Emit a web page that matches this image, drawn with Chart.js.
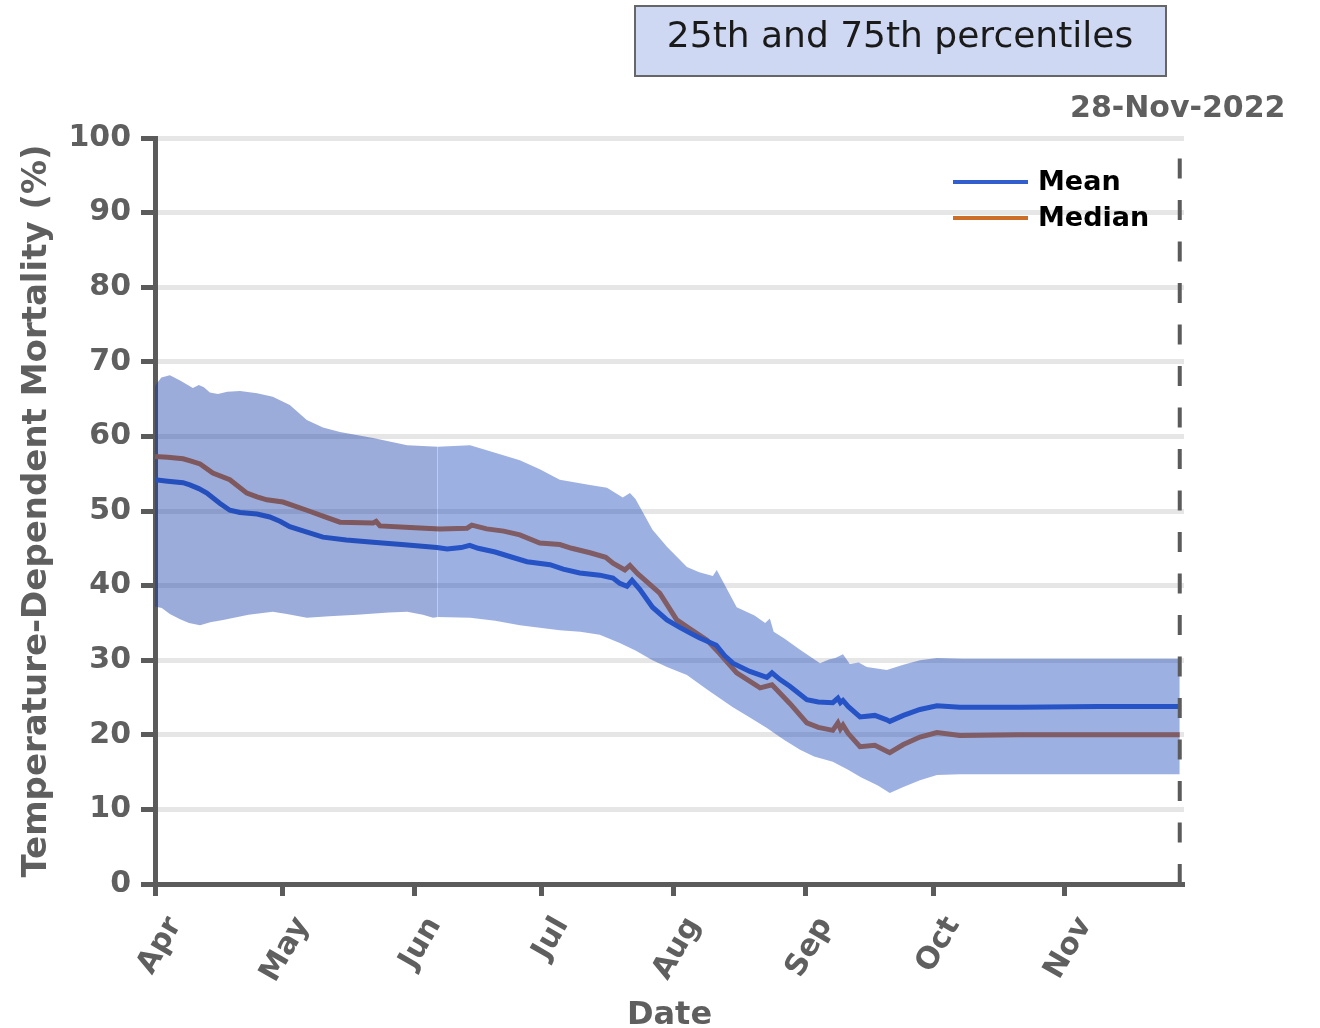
<!DOCTYPE html>
<html><head><meta charset="utf-8">
<script src="https://cdn.jsdelivr.net/npm/chart.js@4.4.1/dist/chart.umd.min.js"></script>
<style>html,body{margin:0;padding:0;background:#fff;}canvas{display:block;}</style>
</head><body>
<canvas id="c" width="1320" height="1028"></canvas>
<script>
// x values are days since 1-Apr-2022
const monthTickDays = [0, 30, 61, 91, 122, 153, 183, 214];
const monthLabels = ['Apr', 'May', 'Jun', 'Jul', 'Aug', 'Sep', 'Oct', 'Nov'];
const yTicks = [0, 10, 20, 30, 40, 50, 60, 70, 80, 90, 100];
const lastDay = 241;
const lastDayLabel = '28-Nov-2022';
const bandSplitDay = 66.5;
const titleText = '25th and 75th percentiles';
const seriesNames = ['Mean', 'Median'];

const meanSeries = [[0,54.2],[3,54.0],[6.6,53.8],[8.2,53.5],[10.3,53.0],[12.2,52.4],[15.3,51.0],[17.6,50.1],[20,49.8],[24,49.6],[27,49.2],[29.5,48.6],[31.7,47.9],[35,47.3],[39.5,46.5],[45,46.1],[51.3,45.8],[58,45.5],[66.3,45.1],[68.7,44.9],[72,45.1],[74,45.4],[76,45.0],[80,44.5],[84,43.8],[87.5,43.2],[92.9,42.8],[96,42.2],[99.9,41.7],[104.6,41.4],[107.7,41.0],[109.3,40.3],[111,39.9],[112.2,40.7],[114,39.5],[117,37.1],[120.4,35.4],[123.4,34.4],[126,33.6],[128,33.0],[132,32.0],[134,30.6],[135.9,29.6],[139.9,28.5],[143.9,27.7],[145.1,28.3],[147,27.4],[149.3,26.5],[153.3,24.7],[156,24.4],[159.4,24.3],[160.6,24.9],[161.2,24.3],[161.8,24.6],[163,23.8],[165.8,22.4],[169.3,22.6],[172.1,22.0],[172.8,21.8],[176,22.6],[179.9,23.4],[183.9,23.9],[189.3,23.7],[203.4,23.7],[222,23.8],[241,23.8]];

const medianSeries = [[0,57.3],[3,57.2],[6.6,57.0],[8.5,56.7],[10.6,56.3],[13.6,55.1],[17.6,54.2],[21.6,52.4],[24,51.9],[26.3,51.5],[30.1,51.2],[35.7,50.1],[40,49.2],[43.5,48.5],[51.3,48.4],[52,48.6],[52.9,48.0],[60,47.8],[67,47.6],[73.4,47.7],[74.5,48.1],[78,47.6],[82,47.3],[85.8,46.8],[90.5,45.7],[95.2,45.5],[98,45.0],[102.3,44.4],[106,43.8],[107.7,43.0],[110.5,42.1],[111.7,42.7],[113.5,41.6],[118.7,39.0],[122.7,35.4],[125.8,34.2],[129.8,32.7],[132.8,30.9],[136.8,28.3],[142.3,26.3],[145.1,26.7],[149.3,24.2],[153.3,21.6],[156,21.0],[159.4,20.6],[160.6,21.6],[161.2,20.8],[161.8,21.3],[163,20.2],[165.8,18.4],[169.3,18.6],[172.1,17.8],[172.8,17.6],[176,18.7],[179.9,19.7],[183.9,20.3],[189.3,19.9],[203,20.0],[241,20.0]];

const upper75 = [[0,66.8],[1.5,67.9],[3.5,68.2],[5.9,67.5],[8.9,66.5],[10.3,66.9],[11.5,66.6],[12.9,65.9],[14.8,65.7],[17,66.0],[20,66.1],[24,65.8],[27.7,65.3],[31.7,64.2],[35.7,62.2],[39.5,61.2],[43.5,60.6],[51.3,59.8],[59.3,58.8],[66.5,58.6],[74.1,58.8],[78.8,58.0],[85.8,56.8],[90.5,55.6],[95.2,54.2],[102.3,53.5],[106.3,53.1],[110,51.8],[111.7,52.4],[113,51.6],[117,47.5],[120.4,45.2],[125.1,42.5],[128,41.8],[131.2,41.3],[132.1,42.1],[133.5,40.6],[136.8,37.1],[141,36.0],[143.5,35.0],[144.6,35.6],[145.5,33.8],[148,32.9],[151.7,31.4],[156.4,29.6],[158.5,30.1],[160,30.3],[161.8,30.8],[163.4,29.5],[165.5,29.7],[167.4,29.1],[172.1,28.7],[176,29.4],[179.9,30.0],[183.9,30.3],[190,30.2],[241,30.2]];

const lower25 = [[0,37.2],[1.6,37.0],[3.5,36.2],[5.9,35.5],[8,35.0],[10.6,34.7],[13,35.1],[16,35.4],[22,36.1],[27.7,36.5],[31,36.2],[35.7,35.7],[41,35.9],[47.5,36.1],[55,36.4],[59.3,36.5],[63,36.1],[65.4,35.7],[66.5,35.8],[74.1,35.7],[80,35.3],[85.8,34.7],[95.2,34.0],[100,33.8],[104.6,33.4],[109.3,32.3],[113,31.3],[117,30.0],[120.4,29.1],[125.1,28.0],[130,26.0],[135.9,23.7],[140,22.3],[143.9,20.9],[148,19.3],[151.7,18.0],[155,17.1],[159.4,16.4],[163,15.3],[166,14.3],[170,13.2],[172.8,12.2],[176,13.0],[179.9,13.9],[183.9,14.6],[189.3,14.7],[241,14.7]];

const toPts = arr => arr.map(p => ({x: p[0], y: p[1]}));
const leftPart = arr => toPts(arr.filter(p => p[0] <= bandSplitDay));
const rightPart = arr => toPts(arr.filter(p => p[0] >= bandSplitDay));

const meanColor = 'rgb(50,95,205)';
const medianColor = 'rgb(205,110,40)';
const bandLeftColor = 'rgba(17,57,167,0.42)';
const bandRightColor = 'rgba(21,67,186,0.42)';
const axisColor = '#5b5b5b';
const textGrey = '#5f5f5f';
const FAM = '"DejaVu Sans", sans-serif';

const bandCommon = {pointRadius: 0, borderWidth: 0, tension: 0};

const overlay = {
  id: 'overlay',
  afterDraw(chart) {
    const ctx = chart.ctx;
    const xs = chart.scales.x, ys = chart.scales.y;
    ctx.save();
    // dashed vertical line at the last date
    const xd = xs.getPixelForValue(lastDay);
    ctx.strokeStyle = axisColor;
    ctx.lineWidth = 4;
    ctx.setLineDash([20, 21.5]);
    ctx.beginPath();
    ctx.moveTo(xd, ys.getPixelForValue(0));
    ctx.lineTo(xd, ys.getPixelForValue(100));
    ctx.stroke();
    ctx.setLineDash([]);
    ctx.fillStyle = textGrey;
    ctx.font = 'bold 30px ' + FAM;
    ctx.textAlign = 'center';
    ctx.textBaseline = 'middle';
    ctx.fillText(lastDayLabel, xd - 2, 109);
    // title box
    ctx.fillStyle = 'rgb(206,216,242)';
    ctx.fillRect(635, 6, 531, 70);
    ctx.strokeStyle = '#666';
    ctx.lineWidth = 2;
    ctx.strokeRect(635, 6, 531, 70);
    ctx.fillStyle = '#1a1a1a';
    ctx.font = '36px ' + FAM;
    ctx.fillText(titleText, 900, 38);
    // legend
    const lg = [[meanColor, seriesNames[0], 182], [medianColor, seriesNames[1], 218]];
    ctx.textAlign = 'left';
    ctx.font = 'bold 27px ' + FAM;
    lg.forEach(([c, t, y]) => {
      ctx.strokeStyle = c;
      ctx.lineWidth = 4;
      ctx.beginPath();
      ctx.moveTo(953, y);
      ctx.lineTo(1028, y);
      ctx.stroke();
      ctx.fillStyle = '#000';
      ctx.fillText(t, 1038, y + 1);
    });
    ctx.restore();
  }
};

new Chart(document.getElementById('c'), {
  type: 'line',
  data: {
    datasets: [
      Object.assign({label: 'p75a', data: leftPart(upper75), fill: '+1', backgroundColor: bandLeftColor}, bandCommon),
      Object.assign({label: 'p25a', data: leftPart(lower25), fill: false}, bandCommon),
      Object.assign({label: 'p75b', data: rightPart(upper75), fill: '+1', backgroundColor: bandRightColor}, bandCommon),
      Object.assign({label: 'p25b', data: rightPart(lower25), fill: false}, bandCommon),
      {label: seriesNames[0], data: toPts(meanSeries), borderColor: meanColor, borderWidth: 5, pointRadius: 0, fill: false, tension: 0},
      {label: seriesNames[1], data: toPts(medianSeries), borderColor: medianColor, borderWidth: 5, pointRadius: 0, fill: false, tension: 0}
    ]
  },
  options: {
    responsive: false,
    animation: false,
    devicePixelRatio: 1,
    layout: {padding: {left: 0, top: 138, right: 136, bottom: 0}},
    plugins: {legend: {display: false}, tooltip: {enabled: false}},
    scales: {
      x: {
        type: 'linear', min: 0, max: 242,
        afterBuildTicks: s => { s.ticks = monthTickDays.map(v => ({value: v})); },
        afterFit: s => { s.height = 144; },
        ticks: {
          autoSkip: false, maxRotation: 60, minRotation: 60, padding: 15, labelOffset: 20,
          color: textGrey, font: {family: FAM, weight: 'bold', size: 30},
          callback: (v, i) => monthLabels[i]
        },
        grid: {drawOnChartArea: false, drawTicks: true, tickLength: 12, tickWidth: 5, tickColor: axisColor},
        border: {display: true, color: axisColor, width: 5},
        title: {display: true, text: 'Date', color: textGrey, font: {family: FAM, weight: 'bold', size: 32, lineHeight: 0.75}, padding: {top: 0, bottom: 0}}
      },
      y: {
        min: 0, max: 100,
        afterBuildTicks: s => { s.ticks = yTicks.map(v => ({value: v})); },
        afterFit: s => { s.width = 155; },
        ticks: {padding: 10, color: textGrey, font: {family: FAM, weight: 'bold', size: 30}, callback: v => String(v)},
        grid: {color: '#e6e6e6', lineWidth: 5, drawTicks: true, tickLength: 14, tickWidth: 5, tickColor: axisColor},
        border: {display: true, color: axisColor, width: 5},
        title: {display: true, text: 'Temperature-Dependent Mortality (%)', color: textGrey, font: {family: FAM, weight: 'bold', size: 34, lineHeight: 1}, padding: {top: 20, bottom: 0}}
      }
    }
  },
  plugins: [overlay]
});
</script>
</body></html>
